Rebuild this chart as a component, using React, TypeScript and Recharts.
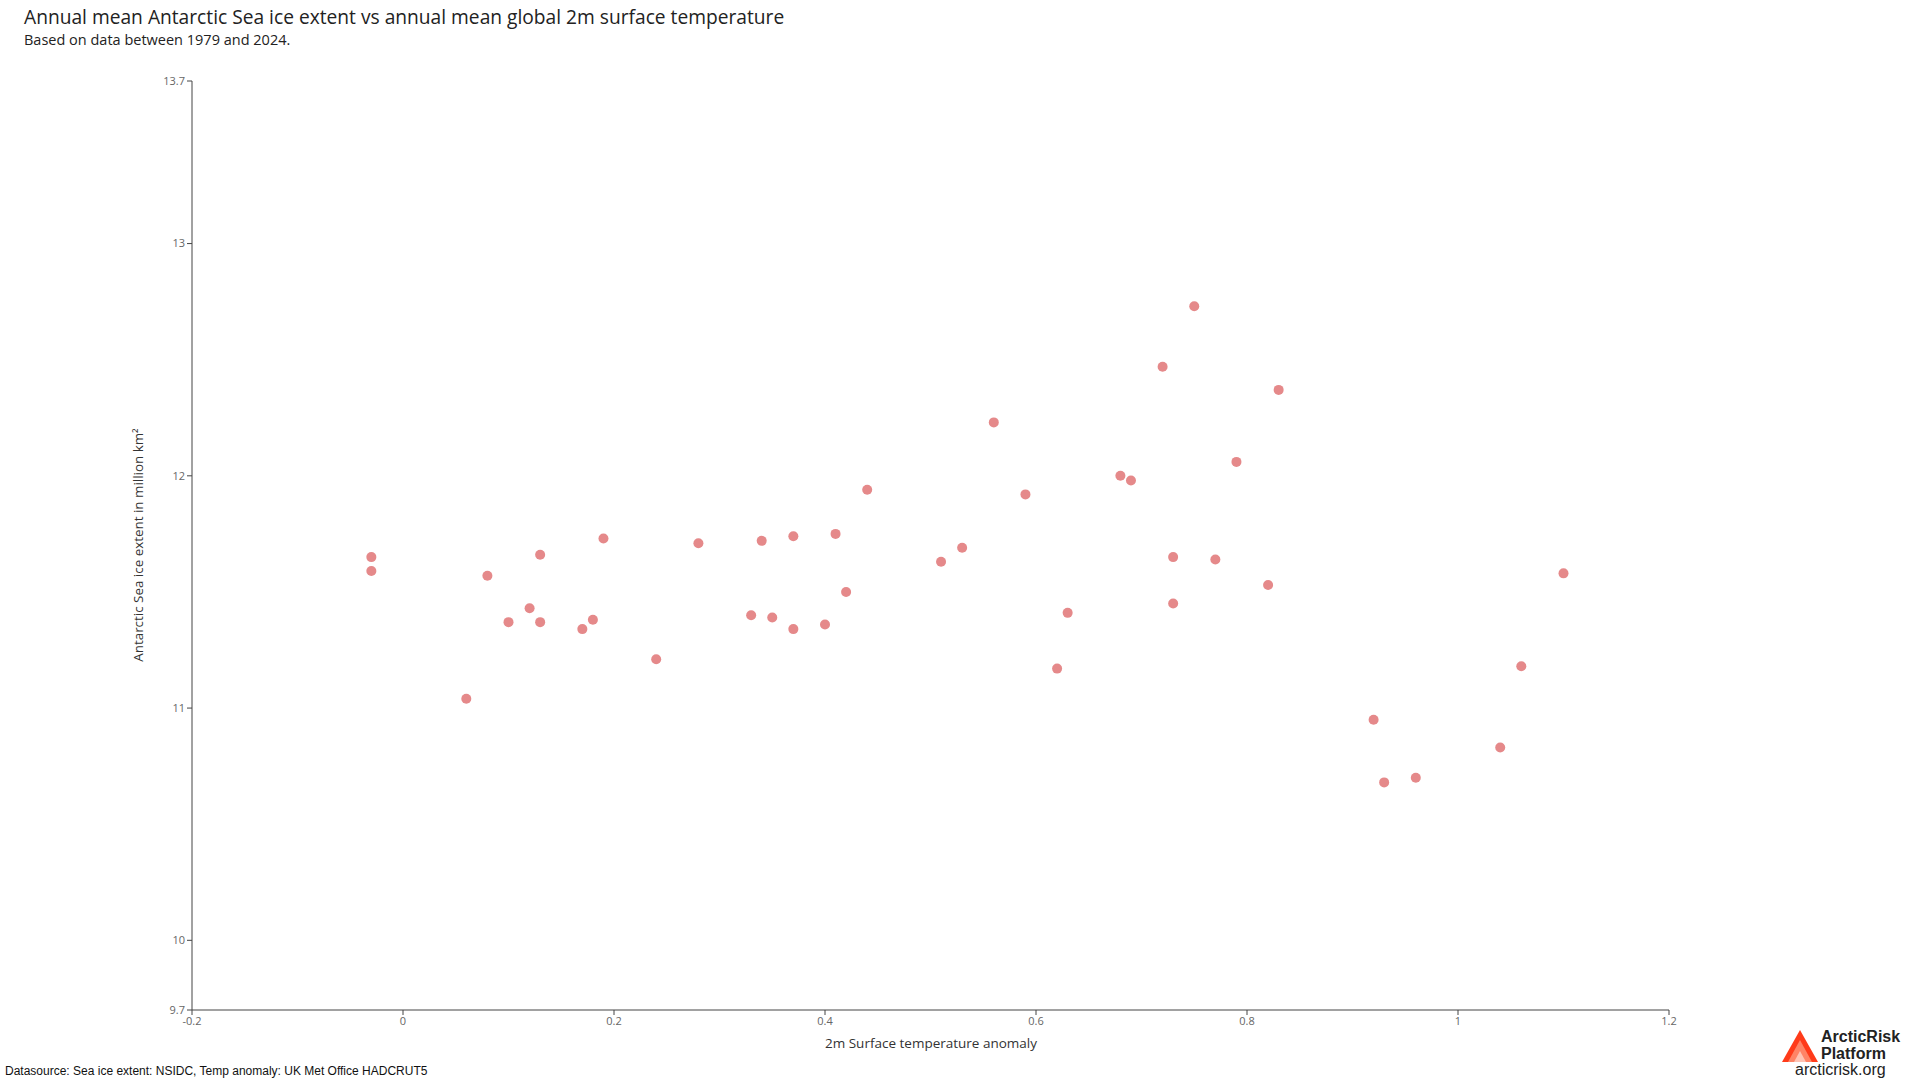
import React from 'react';
import { ScatterChart, Scatter, XAxis, YAxis } from 'recharts';

const tempAnomaly = [
  -0.03, -0.03, 0.06, 0.08, 0.1, 0.12, 0.13, 0.13, 0.17, 0.18, 0.19, 0.24, 0.28,
  0.33, 0.34, 0.35, 0.37, 0.37, 0.4, 0.41, 0.42, 0.44, 0.51, 0.53, 0.56, 0.59,
  0.62, 0.63, 0.68, 0.69, 0.72, 0.73, 0.73, 0.75, 0.77, 0.79, 0.82, 0.83, 0.92,
  0.93, 0.96, 1.04, 1.06, 1.1,
];
const iceExtent = [
  11.65, 11.59, 11.04, 11.57, 11.37, 11.43, 11.66, 11.37, 11.34, 11.38, 11.73, 11.21, 11.71,
  11.4, 11.72, 11.39, 11.74, 11.34, 11.36, 11.75, 11.5, 11.94, 11.63, 11.69, 12.23, 11.92,
  11.17, 11.41, 12.0, 11.98, 12.47, 11.65, 11.45, 12.73, 11.64, 12.06, 11.53, 12.37, 10.95,
  10.68, 10.7, 10.83, 11.18, 11.58,
];
const xTicks = [-0.2, 0, 0.2, 0.4, 0.6, 0.8, 1, 1.2];
const yTicks = [9.7, 10, 11, 12, 13, 13.7];

const points = tempAnomaly.map((t, i) => ({ x: t, y: iceExtent[i] }));

const FONT = '"Open Sans", Lato, sans-serif';
const tickStyle = { fontSize: 11, fill: '#666', fontFamily: FONT };

export default function App() {
  return (
    <div style={{ position: 'absolute', left: 0, top: 0, width: 1920, height: 1080, background: '#fff', fontFamily: FONT }}>
      <ScatterChart width={1920} height={1080} margin={{ top: 81, right: 251, bottom: 30, left: 132 }}>
        <XAxis
          type="number"
          dataKey="x"
          domain={[-0.2, 1.2]}
          ticks={xTicks}
          height={40}
          tick={tickStyle}
          tickSize={5}
          stroke="#444"
          axisLine={{ stroke: '#444' }}
          tickLine={{ stroke: '#444' }}
        />
        <YAxis
          type="number"
          dataKey="y"
          domain={[9.7, 13.7]}
          ticks={yTicks}
          width={60}
          tick={tickStyle}
          tickSize={5}
          stroke="#444"
          axisLine={{ stroke: '#444' }}
          tickLine={{ stroke: '#444' }}
        />
        <Scatter data={points} fill="#e5898a" isAnimationActive={false} shape={(p: any) => <circle cx={p.cx} cy={p.cy} r={5} fill="#e5898a" />} />
      </ScatterChart>

      <div style={{ position: 'absolute', left: 24, top: 7, fontSize: 19.2, lineHeight: '20px', color: '#222', whiteSpace: 'nowrap' }}>
        Annual mean Antarctic Sea ice extent vs annual mean global 2m surface temperature
      </div>
      <div style={{ position: 'absolute', left: 24, top: 32, fontSize: 14.5, lineHeight: '16px', color: '#222', whiteSpace: 'nowrap' }}>
        Based on data between 1979 and 2024.
      </div>

      <div style={{ position: 'absolute', left: 931, top: 1034, transform: 'translateX(-50%)', fontSize: 13.5, color: '#333', whiteSpace: 'nowrap' }}>
        2m Surface temperature anomaly
      </div>
      <div style={{ position: 'absolute', left: 138, top: 545, transform: 'translate(-50%, -50%) rotate(-90deg)', fontSize: 13.4, color: '#333', whiteSpace: 'nowrap' }}>
        Antarctic Sea ice extent in million km²
      </div>

      <div style={{ position: 'absolute', left: 5, top: 1064, fontSize: 12, color: '#111', fontFamily: '"Liberation Sans", Arial, sans-serif', whiteSpace: 'nowrap' }}>
        Datasource: Sea ice extent: NSIDC, Temp anomaly: UK Met Office HADCRUT5
      </div>

      <svg style={{ position: 'absolute', left: 1782, top: 1030 }} width={36} height={32}>
        <polygon points="0,32 18,0 36,32" fill="#ff3b1a" />
        <polygon points="6,32 18,10 30,32" fill="#ff8466" />
        <polygon points="12,32 18,21 24,32" fill="#ffc3b3" />
      </svg>
      <div style={{ position: 'absolute', left: 1821, top: 1028, fontSize: 16, fontWeight: 700, color: '#222', lineHeight: '17px', fontFamily: '"Liberation Sans", Arial, sans-serif' }}>
        ArcticRisk<br />Platform
      </div>
      <div style={{ position: 'absolute', left: 1795, top: 1061, fontSize: 16, color: '#222', fontFamily: '"Liberation Sans", Arial, sans-serif' }}>
        arcticrisk.org
      </div>
    </div>
  );
}
